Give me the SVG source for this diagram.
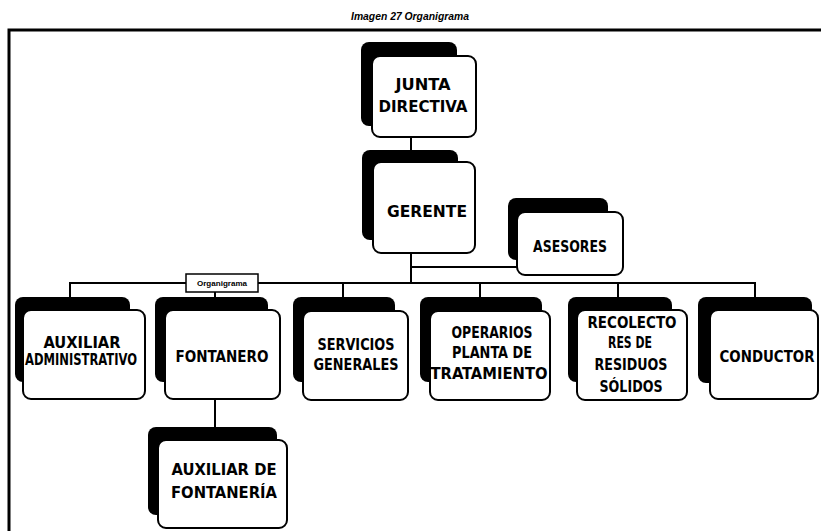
<svg xmlns="http://www.w3.org/2000/svg" width="821" height="531" viewBox="0 0 821 531">
<style>
.sh{fill:#000}
.bx{fill:#fff;stroke:#000;stroke-width:2}
.t{font-family:"DejaVu Sans Condensed","DejaVu Sans",sans-serif;font-weight:bold;font-size:15px;fill:#000;text-anchor:middle}
.c{fill:none;stroke:#000;stroke-width:2}
.title{font-family:"Liberation Sans",Arial,sans-serif;font-style:italic;font-weight:bold;font-size:11px;text-anchor:middle}
</style>
<rect width="821" height="531" fill="#fff"/>
<text class="title" x="410" y="20" textLength="118" lengthAdjust="spacingAndGlyphs">Imagen 27  Organigrama</text>
<g id="frame"><path d="M9,531 V30 H821" fill="none" stroke="#000" stroke-width="3"/></g>
<g id="connectors">
<path class="c" d="M411,136 V152"/>
<path class="c" d="M411,253 V283"/>
<path class="c" d="M411,267 H517"/>
<path class="c" d="M70,297 V283 H755 V297"/>
<path class="c" d="M215,283 V297"/>
<path class="c" d="M343,283 V297"/>
<path class="c" d="M480,283 V297"/>
<path class="c" d="M618,283 V297"/>
<path class="c" d="M215,399 V427"/>
</g>
<g id="label-organigrama">
<rect x="186" y="274" width="72" height="18" fill="#fff" stroke="#000" stroke-width="1.5"/>
<text x="222" y="286" font-family="Liberation Sans,Arial,sans-serif" font-size="7" font-weight="bold" text-anchor="middle" textLength="50" lengthAdjust="spacingAndGlyphs">Organigrama</text>
</g>
<g id="junta">
<rect class="sh" x="361" y="42" width="96" height="84" rx="8"/>
<rect class="bx" x="372" y="56" width="104" height="81" rx="8"/>
<text class="t" x="423" y="90" textLength="55" lengthAdjust="spacingAndGlyphs">JUNTA</text>
<text class="t" x="423" y="112" textLength="89" lengthAdjust="spacingAndGlyphs">DIRECTIVA</text>
</g>
<g id="gerente">
<rect class="sh" x="362" y="150" width="96" height="90" rx="8"/>
<rect class="bx" x="373" y="162" width="102" height="91" rx="8"/>
<text class="t" x="427" y="217" textLength="80" lengthAdjust="spacingAndGlyphs">GERENTE</text>
</g>
<g id="asesores">
<rect class="sh" x="508" y="198" width="100" height="62" rx="8"/>
<rect class="bx" x="517" y="212" width="106" height="63" rx="8"/>
<text class="t" x="570" y="252" textLength="74" lengthAdjust="spacingAndGlyphs">ASESORES</text>
</g>
<g id="auxiliar-administrativo">
<rect class="sh" x="15" y="297" width="115" height="85" rx="8"/>
<rect class="bx" x="23" y="310" width="122" height="89" rx="8"/>
<text class="t" x="82" y="348" textLength="77" lengthAdjust="spacingAndGlyphs">AUXILIAR</text>
<text class="t" x="81" y="365" font-size="10" textLength="112" lengthAdjust="spacingAndGlyphs">ADMINISTRATIVO</text>
</g>
<g id="fontanero">
<rect class="sh" x="155" y="297" width="113" height="85" rx="8"/>
<rect class="bx" x="165" y="310" width="115" height="89" rx="8"/>
<text class="t" x="222" y="362" textLength="93" lengthAdjust="spacingAndGlyphs">FONTANERO</text>
</g>
<g id="servicios-generales">
<rect class="sh" x="293" y="297" width="102" height="85" rx="8"/>
<rect class="bx" x="303" y="311" width="105" height="89" rx="8"/>
<text class="t" x="356" y="350" textLength="77" lengthAdjust="spacingAndGlyphs">SERVICIOS</text>
<text class="t" x="356" y="370" textLength="85" lengthAdjust="spacingAndGlyphs">GENERALES</text>
</g>
<g id="operarios">
<rect class="sh" x="420" y="297" width="122" height="85" rx="8"/>
<rect class="bx" x="430" y="311" width="120" height="89" rx="8"/>
<text class="t" x="492" y="338" textLength="81" lengthAdjust="spacingAndGlyphs">OPERARIOS</text>
<text class="t" x="492" y="358" textLength="80" lengthAdjust="spacingAndGlyphs">PLANTA DE</text>
<text class="t" x="489" y="379" textLength="117" lengthAdjust="spacingAndGlyphs">TRATAMIENTO</text>
</g>
<g id="recolectores">
<rect class="sh" x="568" y="297" width="104" height="85" rx="8"/>
<rect class="bx" x="577" y="310" width="110" height="90" rx="8"/>
<text class="t" x="632" y="328" textLength="89" lengthAdjust="spacingAndGlyphs">RECOLECTO</text>
<text class="t" x="630" y="348" textLength="44" lengthAdjust="spacingAndGlyphs">RES DE</text>
<text class="t" x="631" y="370" textLength="73" lengthAdjust="spacingAndGlyphs">RESIDUOS</text>
<text class="t" x="631" y="392" textLength="63" lengthAdjust="spacingAndGlyphs">SÓLIDOS</text>
</g>
<g id="conductor">
<rect class="sh" x="698" y="297" width="114" height="86" rx="8"/>
<rect class="bx" x="710" y="310" width="108" height="89" rx="8"/>
<text class="t" x="767" y="362" textLength="95" lengthAdjust="spacingAndGlyphs">CONDUCTOR</text>
</g>
<g id="auxiliar-fontaneria">
<rect class="sh" x="148" y="427" width="129" height="88" rx="8"/>
<rect class="bx" x="158" y="440" width="129" height="88" rx="8"/>
<text class="t" x="224" y="475" textLength="105" lengthAdjust="spacingAndGlyphs">AUXILIAR DE</text>
<text class="t" x="224" y="498" textLength="106" lengthAdjust="spacingAndGlyphs">FONTANERÍA</text>
</g>
</svg>
